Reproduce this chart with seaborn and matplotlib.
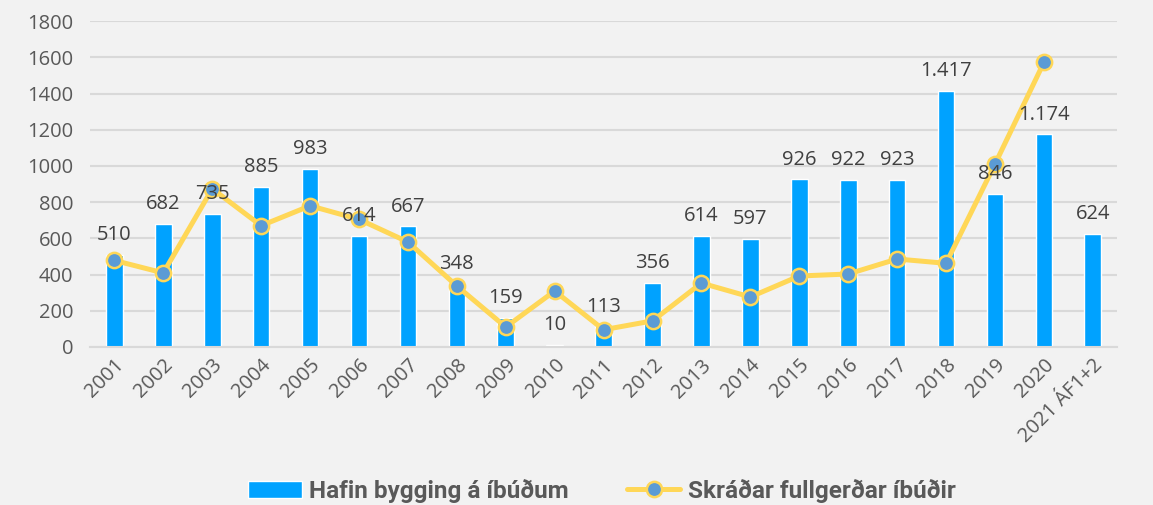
import seaborn as sns
import pandas as pd
import matplotlib.pyplot as plt

years = ['2001', '2002', '2003', '2004', '2005', '2006', '2007', '2008', '2009', '2010',
         '2011', '2012', '2013', '2014', '2015', '2016', '2017', '2018', '2019', '2020',
         '2021 ÁF1+2']
started = [510, 682, 735, 885, 983, 614, 667, 348, 159, 10,
           113, 356, 614, 597, 926, 922, 923, 1417, 846, 1174, 624]
completed = [478, 409, 874, 670, 780, 705, 580, 337, 110, 309,
             95, 144, 353, 276, 392, 403, 486, 462, 1010, 1572]

bar_name = 'Hafin bygging á íbúðum'
line_name = 'Skráðar fullgerðar íbúðir'

sns.set_style('white')
plt.rcParams['font.family'] = ['Open Sans', 'DejaVu Sans']

bars = pd.DataFrame({'year': years, 'value': started})
line = pd.DataFrame({'pos': range(len(completed)), 'value': completed})

fig = plt.figure(figsize=(11.53, 5.05), dpi=100)
fig.patch.set_facecolor('#f2f2f2')
ax = fig.add_axes([0.078, 0.313, 0.891, 0.645])
ax.set_facecolor('#f2f2f2')

sns.barplot(data=bars, x='year', y='value', color='#00a2ff', saturation=1,
            width=0.34, ax=ax, label=bar_name, zorder=2)
sns.lineplot(data=line, x='pos', y='value', ax=ax, color='#ffd757', linewidth=3.6,
             marker='o', markersize=11, markerfacecolor='#5b9bd5',
             markeredgecolor='#ffd757', markeredgewidth=1.8, label=line_name, zorder=3)

labels = [f'{v:,}'.replace(',', '.') for v in started]
ax.bar_label(ax.containers[0], labels=labels, padding=7, fontsize=14.5,
             color='#404040', zorder=5)

ax.set_ylim(0, 1800)
ax.set_yticks(range(0, 1801, 200))
ax.set_xlim(-0.5, len(years) - 0.5)
ax.grid(axis='y', color='#d9d9d9', linewidth=1.5, zorder=0)
ax.set_axisbelow(True)
for s in ['top', 'right', 'left']:
    ax.spines[s].set_visible(False)
ax.spines['bottom'].set_color('#d9d9d9')
ax.spines['bottom'].set_linewidth(1.5)
ax.tick_params(axis='both', length=0, labelsize=14.5, labelcolor='#595959')
ax.tick_params(axis='y', pad=12)
ax.tick_params(axis='x', pad=6)
plt.setp(ax.get_xticklabels(), rotation=45, ha='right', rotation_mode='anchor')
ax.set_xlabel('')
ax.set_ylabel('')

handles, lbls = ax.get_legend_handles_labels()
order = [lbls.index(bar_name), lbls.index(line_name)]
ax.get_legend().remove()
leg = fig.legend([handles[i] for i in order], [lbls[i] for i in order],
                 loc='center', bbox_to_anchor=(0.522, 0.028), ncol=2,
                 frameon=False, columnspacing=2.4, handlelength=2.2, handletextpad=0.3,
                 prop={'family': ['Roboto', 'DejaVu Sans'],
                       'weight': 'bold', 'size': 17.5})
for t in leg.get_texts():
    t.set_color('#595959')

fig.savefig('out.png', dpi=100, facecolor=fig.get_facecolor())
